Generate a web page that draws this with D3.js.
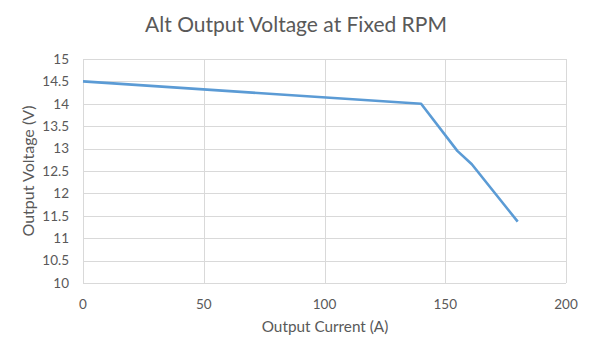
<!DOCTYPE html>
<html><head><meta charset="utf-8">
<script src="https://cdn.jsdelivr.net/npm/d3@7"></script>
<style>body{margin:0;background:#fff}svg{display:block}text{font-family:Lato,"Open Sans",sans-serif;fill:#595959}</style>
</head><body>
<svg id="c" width="594" height="357"></svg>
<script>
const currents = [0, 140, 155, 161, 180];
const voltages = [14.5, 14.0, 12.95, 12.65, 11.37];
const xTicks = [0, 50, 100, 150, 200];
const yTicks = [10, 10.5, 11, 11.5, 12, 12.5, 13, 13.5, 14, 14.5, 15];
const title = "Alt Output Voltage at Fixed RPM";
const xTitle = "Output Current (A)";
const yTitle = "Output Voltage (V)";

const svg = d3.select("#c");
const x = d3.scaleLinear().domain([0, 200]).range([83, 566]);
const y = d3.scaleLinear().domain([10, 15]).range([283, 59]);

// gridlines
svg.append("g").selectAll("line").data(yTicks).join("line")
  .attr("x1", x(0)).attr("x2", x(200))
  .attr("y1", d => Math.round(y(d)) + 0.5).attr("y2", d => Math.round(y(d)) + 0.5)
  .attr("stroke", "#d9d9d9").attr("stroke-width", 1);
svg.append("g").selectAll("line").data(xTicks).join("line")
  .attr("y1", y(15)).attr("y2", y(10))
  .attr("x1", d => Math.round(x(d)) + 0.5).attr("x2", d => Math.round(x(d)) + 0.5)
  .attr("stroke", "#d9d9d9").attr("stroke-width", 1);

// tick labels
svg.append("g").selectAll("text").data(yTicks).join("text")
  .attr("x", 69).attr("y", d => y(d)).attr("dy", "0.35em")
  .attr("text-anchor", "end").attr("font-size", 13.5).text(d => d);
svg.append("g").selectAll("text").data(xTicks).join("text")
  .attr("x", d => x(d)).attr("y", 304).attr("dy", "0.35em")
  .attr("text-anchor", "middle").attr("font-size", 13.5).text(d => d);

// line
const pts = currents.map((c, i) => [c, voltages[i]]);
svg.append("path").datum(pts)
  .attr("d", d3.line().x(d => x(d[0])).y(d => y(d[1])))
  .attr("fill", "none").attr("stroke", "#5b9bd5").attr("stroke-width", 2.6)
  .attr("stroke-linejoin", "round");

// titles
svg.append("text").attr("x", 296).attr("y", 25).attr("dy", "0.35em")
  .attr("text-anchor", "middle").attr("font-size", 21).text(title);
svg.append("text").attr("x", 325).attr("y", 327).attr("dy", "0.35em")
  .attr("text-anchor", "middle").attr("font-size", 15.3).text(xTitle);
svg.append("text").attr("transform", "translate(28,171) rotate(-90)").attr("dy", "0.35em")
  .attr("text-anchor", "middle").attr("font-size", 16).text(yTitle);
</script>
</body></html>
